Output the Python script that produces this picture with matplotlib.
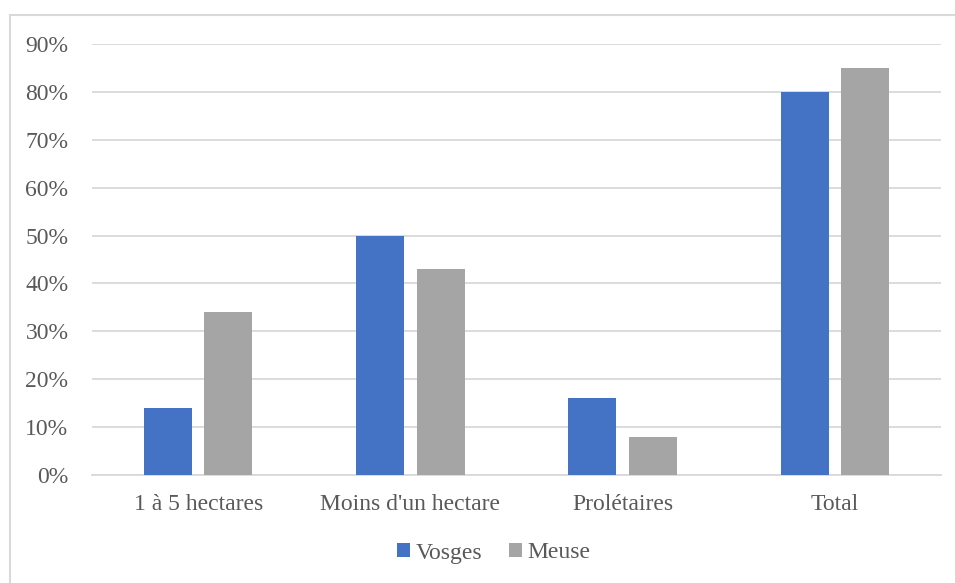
import matplotlib.pyplot as plt
import numpy as np
from matplotlib.patches import Rectangle

categories = ["1 à 5 hectares", "Moins d'un hectare", "Prolétaires", "Total"]
vosges = [0.14, 0.50, 0.16, 0.80]
meuse = [0.34, 0.43, 0.08, 0.85]

plt.rcParams['font.family'] = ['Liberation Serif', 'DejaVu Serif']
txt = '#595959'
grid = '#d9d9d9'

fig = plt.figure(figsize=(9.55, 5.83), dpi=100)
ax = fig.add_axes([92 / 955, 1 - 475 / 583, (941 - 92) / 955, (475 - 44) / 583])

x = np.arange(len(categories))
w = 0.226
ax.bar(x - 0.143, vosges, w, color='#4472C4', label='Vosges', zorder=3)
ax.bar(x + 0.143, meuse, w, color='#A5A5A5', label='Meuse', zorder=3)

ax.set_xlim(-0.5, len(categories) - 0.5)
ax.set_ylim(0, 0.9)
ax.set_yticks(np.arange(0, 0.91, 0.1))
ax.set_yticklabels([f"{int(round(v * 100))}%" for v in np.arange(0, 0.91, 0.1)])
ax.set_xticks(x)
ax.set_xticklabels(categories)
ax.yaxis.grid(True, color=grid, linewidth=1.3, zorder=0)
for s in ['top', 'right', 'left']:
    ax.spines[s].set_visible(False)
ax.spines['bottom'].set_color(grid)
ax.spines['bottom'].set_linewidth(1.3)
ax.tick_params(axis='both', length=0, labelsize=17, colors=txt)
ax.tick_params(axis='y', pad=17)
ax.tick_params(axis='x', pad=14)

fig.legend(loc='center', bbox_to_anchor=(494 / 955, 1 - 553 / 583), ncol=2,
           frameon=False, fontsize=17, labelcolor=txt, handlelength=0.55,
           handleheight=0.55, handletextpad=0.25, columnspacing=1.1)

fig.patches.append(Rectangle((10 / 955, -0.1), 1.2, 1 - 15 / 583 + 0.1,
                             transform=fig.transFigure, fill=False,
                             edgecolor=grid, linewidth=1.5))

fig.savefig('out.png', dpi=100)
